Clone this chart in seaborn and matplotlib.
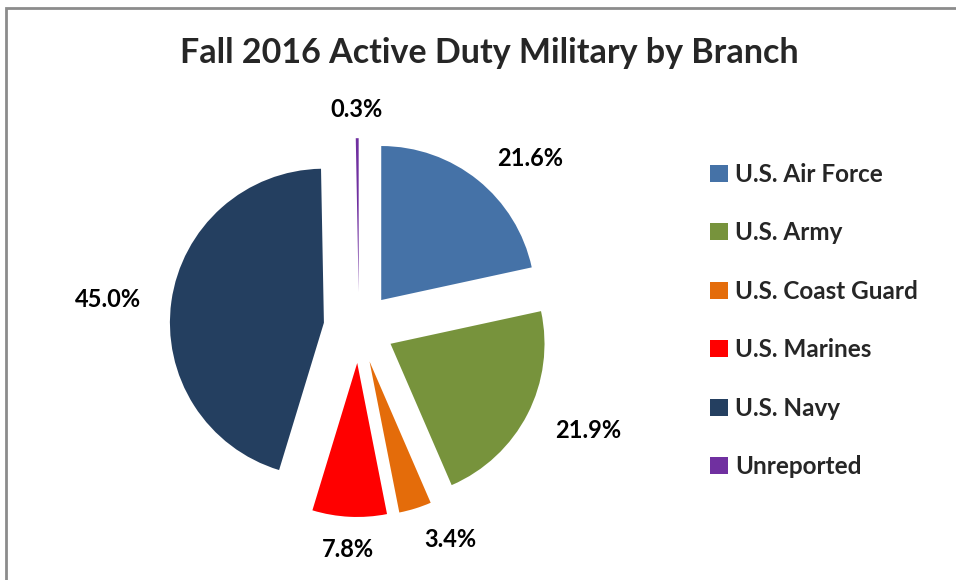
import matplotlib.pyplot as plt
import matplotlib.patches as mpatches
import seaborn as sns

sns.set_theme(style="white")
plt.rcParams['font.family'] = ['Lato', 'DejaVu Sans']

# Data
branches = ['U.S. Air Force', 'U.S. Army', 'U.S. Coast Guard',
            'U.S. Marines', 'U.S. Navy', 'Unreported']
shares = [21.6, 21.9, 3.4, 7.8, 45.0, 0.3]
colors = ['#4572A7', '#77933C', '#E46C0A', '#FF0000', '#243F60', '#7030A0']

pct_labels = [f"{s:.1f}%" for s in shares]

fig = plt.figure(figsize=(9.56, 5.8), dpi=100)
ax = fig.add_axes([51 / 956, 6 / 580, 616 / 956, 492.8 / 580])

# Excel-style "best fit" labels: outside the slice, edge aligned
wedges, texts = ax.pie(
    shares, labels=pct_labels, colors=colors, startangle=90, counterclock=False,
    explode=[0.23] * len(shares), labeldistance=1.2,
    wedgeprops={'linewidth': 0},
    textprops={'fontsize': 17, 'fontweight': 'bold', 'color': 'black'})
for t in texts:
    x, y = t.get_position()
    if abs(x) < 0.3:  # labels straight above/below the pie
        t.set_ha('center')
    t.set_va('center_baseline')
ax.set_xlim(-2.0, 2.0)
ax.set_ylim(-1.6, 1.6)
ax.set_aspect('equal')
ax.axis('off')

fig.text(0.512, 1 - 63 / 580, 'Fall 2016 Active Duty Military by Branch',
         ha='center', va='baseline', fontsize=24.5, fontweight='bold')

fig.legend(wedges, branches, loc='upper left', bbox_to_anchor=(0.743, 0.719),
           frameon=False, prop={'weight': 'bold', 'size': 17.5},
           handlelength=0.72, handleheight=0.7, handletextpad=0.3,
           labelspacing=1.46, borderpad=0, borderaxespad=0)

# chart frame (gray border on top and left, cut off at right/bottom)
fig.patches.append(mpatches.Rectangle(
    (6 / 956, -0.1), 1.2, 1.1 - 8 / 580, transform=fig.transFigure,
    fill=False, edgecolor='#8C8C8C', linewidth=2))

fig.savefig('out.png', dpi=100)
